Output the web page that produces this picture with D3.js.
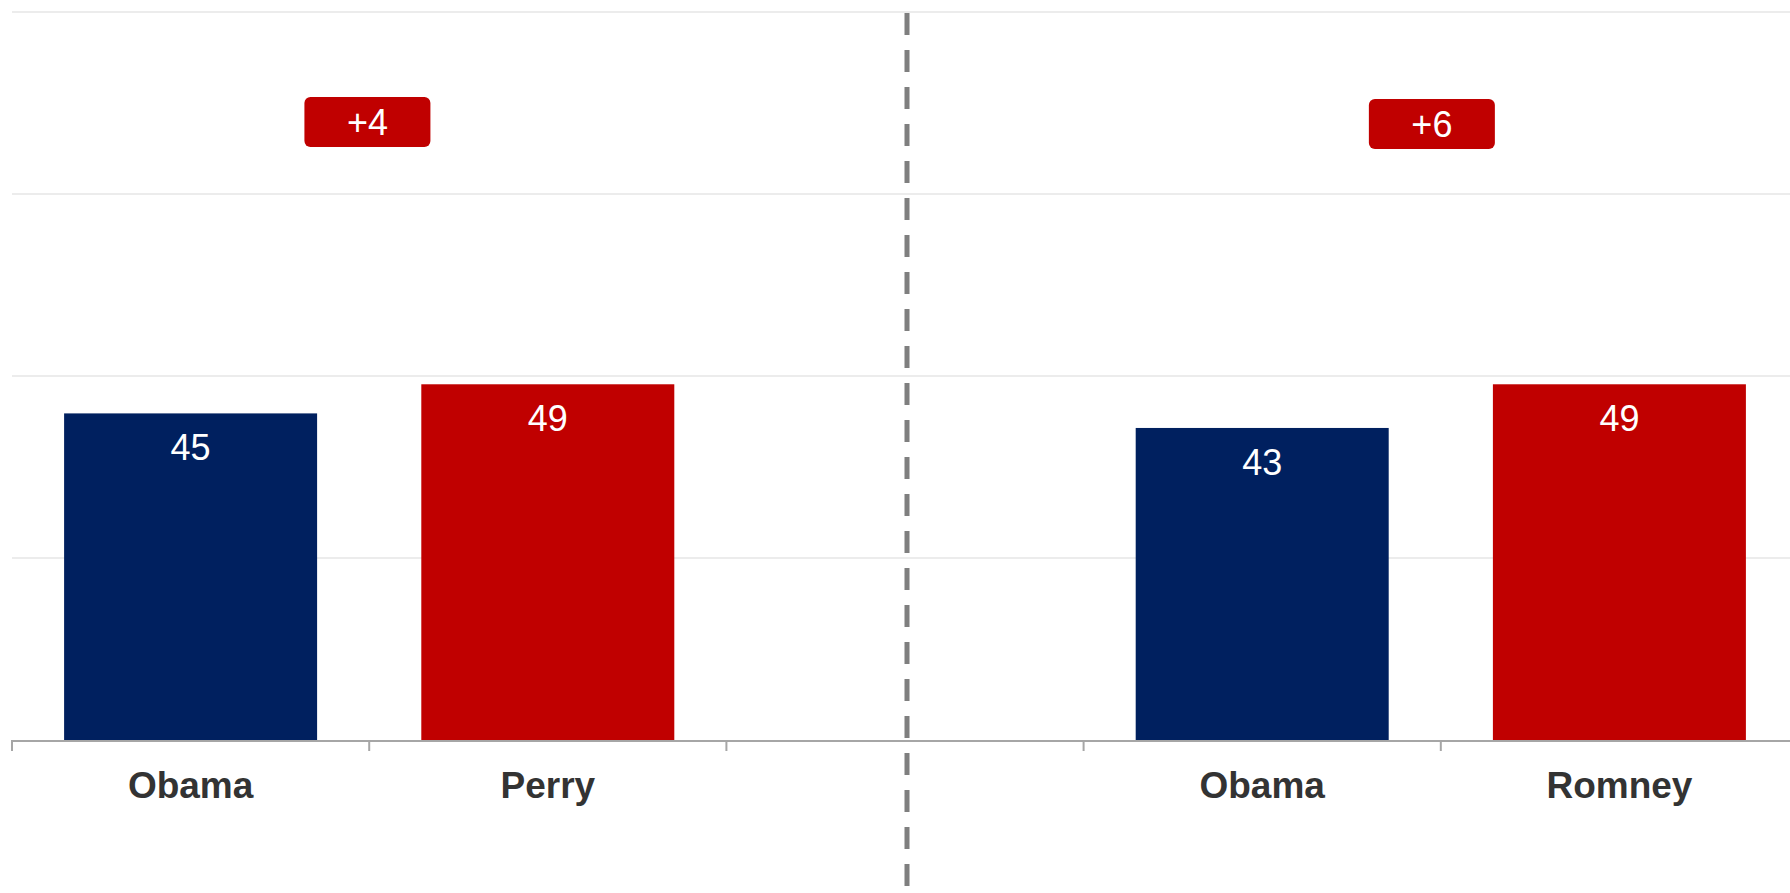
<!DOCTYPE html>
<html>
<head>
<meta charset="utf-8">
<script src="https://cdn.jsdelivr.net/npm/d3@7"></script>
<style>
  html, body { margin: 0; padding: 0; background: #fff; }
  svg { display: block; font-family: "Liberation Sans", Arial, sans-serif; }
</style>
</head>
<body>
<svg id="chart" width="1790" height="893"></svg>
<script>
// ---- data ----
const categories = ["Obama", "Perry", "", "Obama", "Romney"];
const values = [45, 49, null, 43, 49];
const parties = ["D", "R", null, "D", "R"];
const yTicks = [0, 25, 50, 75, 100];
const leadLabels = ["+4", "+6"];
const leadPositions = [0.995, 3.975];   // in band units along the category axis
const leadValues = [84.9, 84.6];        // vertical placement on the value scale
const separatorIndex = 2;

(function () {
// ---- layout ----
const svg = d3.select("#chart");
const W = 1790, H = 893;
const mLeft = 12, mTop = 12, mBottom = 740;
const step = 357.2;
const colors = { D: "#00205f", R: "#c00000" };

const x = d3.scaleBand()
  .domain(d3.range(categories.length))
  .range([mLeft, mLeft + step * categories.length])
  .paddingInner(0).paddingOuter(0);
const y = d3.scaleLinear().domain([0, 100]).range([mBottom, mTop]);
const barW = 253;

// gridlines
svg.append("g").selectAll("line")
  .data(yTicks.filter(t => t > 0))
  .join("line")
  .attr("x1", mLeft).attr("x2", W)
  .attr("y1", d => y(d)).attr("y2", d => y(d))
  .attr("stroke", "#d9d9d9").attr("stroke-width", 1.2);

// bars
const barData = values.map((v, i) => ({ v, i, p: parties[i] })).filter(d => d.v != null);
svg.append("g").selectAll("rect")
  .data(barData)
  .join("rect")
  .attr("x", d => x(d.i) + (x.bandwidth() - barW) / 2)
  .attr("width", barW)
  .attr("y", d => y(d.v) + 1)
  .attr("height", d => y(0) - y(d.v) - 1)
  .attr("fill", d => colors[d.p]);

// value labels
svg.append("g").selectAll("text")
  .data(barData)
  .join("text")
  .attr("x", d => x(d.i) + x.bandwidth() / 2)
  .attr("y", d => y(d.v) + 48)
  .attr("text-anchor", "middle")
  .attr("fill", "#fff")
  .attr("font-size", 36)
  .text(d => d.v);

// x axis
const axis = d3.axisBottom(x)
  .tickSize(0)
  .tickPadding(0)
  .tickFormat(i => categories[i]);
const gx = svg.append("g").attr("transform", `translate(0,${mBottom})`).call(axis);
gx.select(".domain").remove();
gx.selectAll("text")
  .attr("dy", null)
  .attr("y", 58)
  .attr("font-size", 37)
  .attr("font-weight", "bold")
  .attr("fill", "#333")
  .attr("font-family", "Liberation Sans, Arial, sans-serif");

svg.append("line")
  .attr("x1", mLeft).attr("x2", W)
  .attr("y1", mBottom + 1).attr("y2", mBottom + 1)
  .attr("stroke", "#a6a6a6").attr("stroke-width", 2);

// ticks at band boundaries
const boundaries = d3.range(categories.length + 1).map(i => mLeft + i * x.step());
svg.append("g").selectAll("line")
  .data(boundaries)
  .join("line")
  .attr("x1", d => d).attr("x2", d => d)
  .attr("y1", mBottom).attr("y2", mBottom + 11)
  .attr("stroke", "#a6a6a6").attr("stroke-width", 2);

// separator dashed line
const sepX = x(separatorIndex) + x.bandwidth() / 2 + 2;
svg.append("line")
  .attr("x1", sepX).attr("x2", sepX)
  .attr("y1", mTop + 1).attr("y2", H)
  .attr("stroke", "#7f7f7f").attr("stroke-width", 5)
  .attr("stroke-dasharray", "22,15");

// lead badges
const badgeW = 126, badgeH = 50;
const badges = svg.append("g").selectAll("g")
  .data(leadLabels.map((t, i) => ({ t, pos: leadPositions[i], v: leadValues[i] })))
  .join("g")
  .attr("transform", d => `translate(${mLeft + d.pos * x.step()},${y(d.v)})`);
badges.append("rect")
  .attr("x", -badgeW / 2).attr("y", -badgeH / 2)
  .attr("width", badgeW).attr("height", badgeH)
  .attr("rx", 6).attr("ry", 6)
  .attr("fill", "#c00000");
badges.append("text")
  .attr("text-anchor", "middle")
  .attr("y", 13)
  .attr("fill", "#fff")
  .attr("font-size", 36)
  .text(d => d.t);
})();
</script>
</body>
</html>
